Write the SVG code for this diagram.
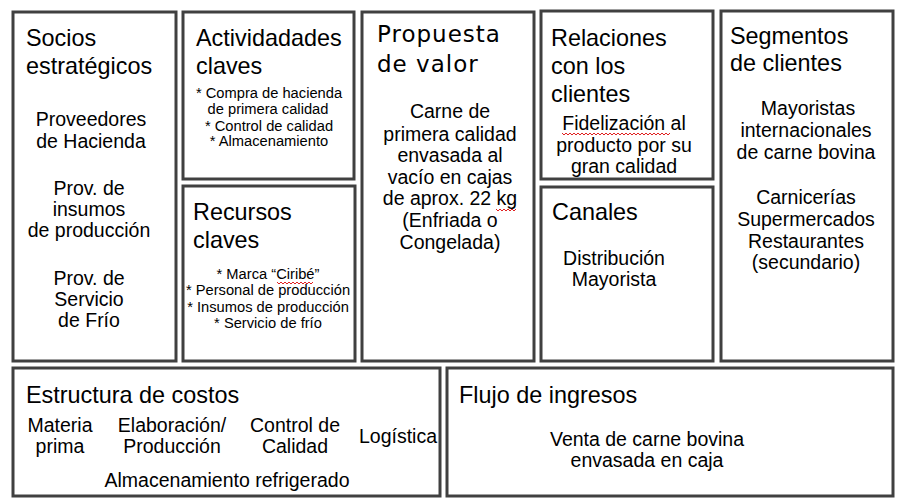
<svg xmlns="http://www.w3.org/2000/svg" width="900" height="501" viewBox="0 0 900 501">
<style>
.box{fill:#fff;stroke:#404040;stroke-width:3}
.t{font-family:"Liberation Sans",Arial,sans-serif;font-size:23.4px;fill:#000}
.pv{font-family:"DejaVu Sans",sans-serif;font-size:23px;letter-spacing:1px;fill:#000}
.b{font-family:"Liberation Sans",Arial,sans-serif;font-size:19.5px;fill:#000;text-anchor:middle}
.s{font-family:"Liberation Sans",Arial,sans-serif;font-size:14.7px;fill:#000;text-anchor:middle}
.w{fill:none;stroke:#e02020;stroke-width:1}
</style>
<rect width="900" height="501" fill="#fff"/>
<g id="socios">
<rect class="box" x="13" y="12" width="163" height="349"/>
<text class="t" x="26" y="46">Socios</text>
<text class="t" x="26" y="74">estratégicos</text>
<text class="b" x="91" y="126">Proveedores</text>
<text class="b" x="91" y="148">de Hacienda</text>
<text class="b" x="89" y="195">Prov. de</text>
<text class="b" x="89" y="216">insumos</text>
<text class="b" x="89" y="237">de producción</text>
<text class="b" x="89" y="285">Prov. de</text>
<text class="b" x="89" y="306">Servicio</text>
<text class="b" x="89" y="327">de Frío</text>
</g>
<g id="actividades">
<rect class="box" x="183" y="12" width="171" height="167"/>
<text class="t" x="196" y="46">Actividadades</text>
<text class="t" x="196" y="74">claves</text>
<text class="s" x="269" y="98">* Compra de hacienda</text>
<text class="s" x="268" y="114">de primera calidad</text>
<text class="s" x="269" y="131">* Control de calidad</text>
<text class="s" x="269" y="146">* Almacenamiento</text>
</g>
<g id="recursos">
<rect class="box" x="183" y="186" width="172" height="175"/>
<text class="t" x="193" y="220">Recursos</text>
<text class="t" x="193" y="248">claves</text>
<text class="s" x="268" y="279">* Marca “Ciribé”</text>
<path class="w" d="M277 282 l2 2 l2 -2 l2 2 l2 -2 l2 2 l2 -2 l2 2 l2 -2 l2 2 l2 -2 l2 2 l2 -2 l2 2 l2 -2 l2 2 l2 -2 l2 2 l2 -2"/>
<text class="s" x="268" y="295">* Personal de producción</text>
<text class="s" x="268" y="312">* Insumos de producción</text>
<text class="s" x="268" y="328">* Servicio de frío</text>
</g>
<g id="propuesta">
<rect class="box" x="362" y="12" width="172" height="349"/>
<text class="pv" x="377" y="42">Propuesta</text>
<text class="pv" x="377" y="72">de valor</text>
<text class="b" x="450" y="118">Carne de</text>
<text class="b" x="450" y="141">primera calidad</text>
<text class="b" x="450" y="162">envasada al</text>
<text class="b" x="450" y="184">vacío en cajas</text>
<text class="b" x="450" y="205">de aprox. 22 kg</text>
<path class="w" d="M496 209 l2 2 l2 -2 l2 2 l2 -2 l2 2 l2 -2 l2 2 l2 -2 l2 2 l2 -2"/>
<text class="b" x="450" y="227">(Enfriada o</text>
<text class="b" x="450" y="249">Congelada)</text>
</g>
<g id="relaciones">
<rect class="box" x="541" y="11" width="172" height="168"/>
<text class="t" x="551" y="46">Relaciones</text>
<text class="t" x="551" y="74">con los</text>
<text class="t" x="551" y="102">clientes</text>
<text class="b" x="624" y="130">Fidelización al</text>
<path class="w" d="M562 133 l2 2 l2 -2 l2 2 l2 -2 l2 2 l2 -2 l2 2 l2 -2 l2 2 l2 -2 l2 2 l2 -2 l2 2 l2 -2 l2 2 l2 -2 l2 2 l2 -2 l2 2 l2 -2 l2 2 l2 -2 l2 2 l2 -2 l2 2 l2 -2 l2 2 l2 -2 l2 2 l2 -2 l2 2 l2 -2 l2 2 l2 -2 l2 2 l2 -2 l2 2 l2 -2 l2 2 l2 -2 l2 2 l2 -2 l2 2 l2 -2 l2 2 l2 -2 l2 2 l2 -2 l2 2 l2 -2 l2 2 l2 -2 l2 2 l2 -2"/>
<text class="b" x="624" y="152">producto por su</text>
<text class="b" x="624" y="173">gran calidad</text>
</g>
<g id="canales">
<rect class="box" x="541" y="187" width="172" height="174"/>
<text class="t" x="552" y="220">Canales</text>
<text class="b" x="614" y="265">Distribución</text>
<text class="b" x="614" y="286">Mayorista</text>
</g>
<g id="segmentos">
<rect class="box" x="721" y="11" width="172" height="350"/>
<text class="t" x="730" y="44">Segmentos</text>
<text class="t" x="730" y="71">de clientes</text>
<text class="b" x="808" y="115">Mayoristas</text>
<text class="b" x="806" y="137">internacionales</text>
<text class="b" x="806" y="159">de carne bovina</text>
<text class="b" x="806" y="204">Carnicerías</text>
<text class="b" x="806" y="226">Supermercados</text>
<text class="b" x="806" y="248">Restaurantes</text>
<text class="b" x="806" y="269">(secundario)</text>
</g>
<g id="estructura">
<rect class="box" x="13" y="368" width="427" height="128"/>
<text class="t" x="26" y="403">Estructura de costos</text>
<text class="b" x="60" y="432">Materia</text>
<text class="b" x="60" y="453">prima</text>
<text class="b" x="172" y="432">Elaboración/</text>
<text class="b" x="172" y="453">Producción</text>
<text class="b" x="295" y="432">Control de</text>
<text class="b" x="295" y="453">Calidad</text>
<text class="b" x="398" y="443">Logística</text>
<text class="b" x="227" y="487">Almacenamiento refrigerado</text>
</g>
<g id="flujo">
<rect class="box" x="447" y="368" width="446" height="128"/>
<text class="t" x="459" y="403">Flujo de ingresos</text>
<text class="b" x="647" y="446">Venta de carne bovina</text>
<text class="b" x="647" y="467">envasada en caja</text>
</g>
<g id="connectors"/>
</svg>
